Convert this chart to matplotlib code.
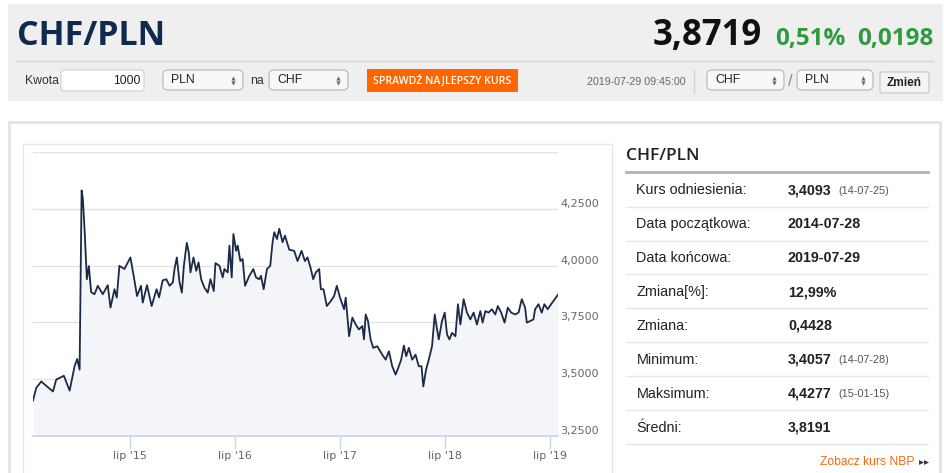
import matplotlib
matplotlib.use("Agg")
import matplotlib.pyplot as plt
from matplotlib.patches import Rectangle, FancyBboxPatch

W, H = 945, 473

# CHF/PLN (decimal year, rate)
years = [2014.572, 2014.603, 2014.651, 2014.698, 2014.762, 2014.793, 2014.866, 2014.921, 2014.968, 2014.993,
         2015.016, 2015.035, 2015.047, 2015.063, 2015.085, 2015.104, 2015.126, 2015.158, 2015.189, 2015.237,
         2015.284, 2015.310, 2015.348, 2015.370, 2015.395, 2015.443, 2015.500, 2015.531, 2015.563, 2015.601,
         2015.617, 2015.658, 2015.702, 2015.749, 2015.773, 2015.807, 2015.842, 2015.873, 2015.904, 2015.920,
         2015.942, 2015.968, 2015.990, 2016.009, 2016.037, 2016.056, 2016.072, 2016.101, 2016.127, 2016.149,
         2016.174, 2016.205, 2016.237, 2016.262, 2016.294, 2016.310, 2016.348, 2016.379, 2016.395, 2016.427,
         2016.443, 2016.465, 2016.481, 2016.507, 2016.522, 2016.547, 2016.569, 2016.592, 2016.633, 2016.671,
         2016.696, 2016.728, 2016.744, 2016.769, 2016.801, 2016.832, 2016.854, 2016.870, 2016.896, 2016.918,
         2016.949, 2016.972, 2017.013, 2017.060, 2017.092, 2017.130, 2017.162, 2017.187, 2017.219, 2017.241,
         2017.266, 2017.298, 2017.314, 2017.339, 2017.371, 2017.409, 2017.440, 2017.466, 2017.497, 2017.535,
         2017.551, 2017.583, 2017.614, 2017.646, 2017.677, 2017.709, 2017.725, 2017.741, 2017.763, 2017.788,
         2017.813, 2017.851, 2017.899, 2017.931, 2017.962, 2017.994, 2018.026, 2018.057, 2018.079, 2018.105,
         2018.127, 2018.152, 2018.184, 2018.216, 2018.247, 2018.273, 2018.290, 2018.316, 2018.342, 2018.373,
         2018.399, 2018.421, 2018.437, 2018.468, 2018.494, 2018.516, 2018.539, 2018.563, 2018.596, 2018.620,
         2018.643, 2018.674, 2018.706, 2018.738, 2018.769, 2018.801, 2018.833, 2018.855, 2018.881, 2018.912,
         2018.943, 2018.975, 2019.000, 2019.032, 2019.064, 2019.095, 2019.127, 2019.165, 2019.197, 2019.228,
         2019.260, 2019.276, 2019.308, 2019.339, 2019.355, 2019.387, 2019.418, 2019.443, 2019.475, 2019.507,
         2019.529, 2019.573]
rates = [3.406, 3.462, 3.490, 3.471, 3.446, 3.498, 3.515, 3.450, 3.557, 3.589,
         3.542, 4.331, 4.294, 4.161, 3.940, 3.998, 3.883, 3.874, 3.911, 3.874,
         3.914, 3.815, 3.896, 3.859, 3.999, 3.985, 4.036, 3.955, 3.866, 3.911,
         3.837, 3.914, 3.822, 3.896, 3.860, 3.935, 3.940, 3.911, 3.926, 3.985,
         4.036, 3.926, 3.881, 3.999, 4.100, 4.058, 3.970, 4.036, 3.977, 4.014,
         3.940, 3.903, 3.881, 3.940, 3.888, 4.011, 3.999, 3.948, 3.985, 3.970,
         4.088, 3.948, 4.139, 4.065, 4.088, 4.020, 4.029, 3.911, 3.955, 3.985,
         3.948, 3.940, 3.955, 3.896, 3.985, 3.999, 4.103, 4.147, 4.117, 4.162,
         4.103, 4.132, 4.070, 4.065, 4.020, 4.065, 4.020, 4.036, 3.985, 3.940,
         3.970, 3.985, 3.896, 3.896, 3.822, 3.844, 3.866, 3.911, 3.859, 3.808,
         3.859, 3.689, 3.771, 3.741, 3.719, 3.734, 3.675, 3.785, 3.756, 3.675,
         3.638, 3.645, 3.608, 3.586, 3.623, 3.557, 3.520, 3.557, 3.586, 3.648,
         3.601, 3.638, 3.586, 3.608, 3.557, 3.557, 3.468, 3.542, 3.586, 3.645,
         3.785, 3.719, 3.675, 3.756, 3.793, 3.697, 3.675, 3.704, 3.689, 3.830,
         3.741, 3.852, 3.793, 3.763, 3.793, 3.741, 3.800, 3.749, 3.800, 3.793,
         3.808, 3.785, 3.822, 3.793, 3.749, 3.815, 3.793, 3.785, 3.793, 3.852,
         3.815, 3.749, 3.756, 3.763, 3.808, 3.830, 3.793, 3.830, 3.808, 3.830,
         3.844, 3.872]

y_ticks = [3.25, 3.5, 3.75, 4.0, 4.25]
y_tick_labels = ["3,2500", "3,5000", "3,7500", "4,0000", "4,2500"]
x_ticks = [2015.496, 2016.497, 2017.496, 2018.496, 2019.496]
x_tick_labels = ["lip '15", "lip '16", "lip '17", "lip '18", "lip '19"]

stat_labels = ["Kurs odniesienia:", "Data początkowa:", "Data końcowa:", "Zmiana[%]:",
               "Zmiana:", "Minimum:", "Maksimum:", "Średni:"]
stat_values = ["3,4093", "2014-07-28", "2019-07-29", "12,99%", "0,4428", "3,4057", "4,4277", "3,8191"]
stat_dates = ["(14-07-25)", "", "", "", "", "(14-07-28)", "(15-01-15)", ""]

fig = plt.figure(figsize=(W / 100, H / 100), dpi=100)
bg = fig.add_axes([0, 0, 1, 1])
bg.set_xlim(0, W)
bg.set_ylim(H, 0)
bg.axis("off")

SANS = "Liberation Sans"
OPEN = "Open Sans"

# top bar
bg.add_patch(Rectangle((8, 4), 935, 97, fc="#efefef", ec="none"))
bg.plot([17, 933], [61, 61], color="#d4d4d4", lw=1)
bg.text(17, 45, "CHF/PLN", family=OPEN, weight="bold", fontsize=24.5, color="#0f2a4e", va="baseline")
bg.text(762, 45, "3,8719", family=OPEN, weight="bold", fontsize=25, color="#111111", va="baseline", ha="right")
bg.text(846, 45, "0,51%", family=OPEN, weight="bold", fontsize=17.5, color="#2e9b3e", va="baseline", ha="right")
bg.text(933, 45, "0,0198", family=OPEN, weight="bold", fontsize=17.5, color="#2e9b3e", va="baseline", ha="right")

# controls row
row_y = 80.5
bg.text(25, row_y, "Kwota", family=SANS, fontsize=8.8, color="#333333", va="center")
bg.add_patch(FancyBboxPatch((61, 70), 83, 21, boxstyle="round,pad=0,rounding_size=3",
                            fc="white", ec="#cfcfcf", lw=0.8))
bg.text(141, row_y, "1000", family=SANS, fontsize=8.8, color="#222222", va="center", ha="right")


def select_box(x0, x1, label):
    bg.add_patch(FancyBboxPatch((x0, 70), x1 - x0, 20, boxstyle="round,pad=0,rounding_size=5",
                                fc="#f8f8f8", ec="#b5b5b5", lw=0.8))
    bg.text(x0 + 8, row_y - 0.5, label, family=SANS, fontsize=8.8, color="#222222", va="center")
    # up/down arrow of the select control
    bg.plot([x1 - 10], [row_y - 2.5], marker="^", ms=3, color="#666666", mew=0)
    bg.plot([x1 - 10], [row_y + 2.5], marker="v", ms=3, color="#666666", mew=0)


select_box(163, 243, "PLN")
bg.text(250, row_y, "na", family=SANS, fontsize=8.8, color="#333333", va="center")
select_box(269, 348, "CHF")

bg.add_patch(Rectangle((367, 69), 151, 23, fc="#ff6600", ec="none"))
bg.text(442.5, row_y, "SPRAWDŹ NAJLEPSZY KURS", family=OPEN, weight="semibold", fontsize=7.6,
        color="white", va="center", ha="center")

bg.text(587, row_y + 1.5, "2019-07-29 09:45:00", family=SANS, fontsize=7.7, color="#666666", va="center")
bg.plot([694, 694], [70, 93], color="#d2d2d2", lw=1)
select_box(707, 784, "CHF")
bg.text(790.5, row_y + 1, "/", family=SANS, fontsize=12, color="#888888", va="center", ha="center")
select_box(797, 873, "PLN")
bg.add_patch(FancyBboxPatch((880, 72), 49, 21, boxstyle="round,pad=0,rounding_size=2",
                            fc="#f4f4f4", ec="#c4c4c4", lw=0.8))
bg.text(904.5, 82.5, "Zmień", family=SANS, weight="bold", fontsize=8.6, color="#222222",
        va="center", ha="center")

# content panel and chart frame
bg.add_patch(Rectangle((9, 122), 931, 360, fc="white", ec="#e2e2e2", lw=2))
bg.add_patch(Rectangle((22.5, 143.5), 589, 340, fc="white", ec="#e6e6e6", lw=1))

# stats table
bg.text(626, 156, "CHF/PLN", family=OPEN, weight="semibold", fontsize=12.5, color="#222222", va="center")
bg.plot([626, 928], [172, 172], color="#b3b3b3", lw=2)
for i, (lab, val, dt) in enumerate(zip(stat_labels, stat_values, stat_dates)):
    yc = 190.3 + i * 33.9
    bg.text(636.5, yc, lab, family=SANS, fontsize=10.4, color="#222222", va="center")
    bg.text(788, yc, val, family=SANS, weight="bold", fontsize=10.3, color="#222222", va="center")
    if dt:
        bg.text(838, yc + 0.5, dt, family=SANS, fontsize=7.8, color="#555555", va="center")
    bg.plot([626, 928], [yc + 16.3, yc + 16.3], color="#e6e6e6", lw=1)
bg.text(915, 462, "Zobacz kurs NBP", family=SANS, fontsize=8.7, color="#f26a10", va="center", ha="right")
bg.plot([920.5, 925.5], [462, 462], ls="none", marker=">", ms=3.5, color="#333333", mew=0)

# chart
x0, x1, ytop, ybot = 33, 558, 152, 436
ax = fig.add_axes([x0 / W, (H - ybot) / H, (x1 - x0) / W, (ybot - ytop) / H])
ax.patch.set_alpha(0)
ax.set_xlim(years[0], years[-1])
ax.set_ylim(3.25, 4.5)
for v in [3.5, 3.75, 4.0, 4.25, 4.5]:
    ax.axhline(v, color="#e3e3e3", lw=1, zorder=1)
ax.fill_between(years, rates, 3.25, color="#f4f5f8", lw=0, zorder=2)
ax.plot(years, rates, color="#1b2a48", lw=1.3, zorder=3, solid_joinstyle="round")
ax.axhline(3.25, color="#ccd6eb", lw=1.3, zorder=4, clip_on=False)

for s in ax.spines.values():
    s.set_visible(False)
ax.set_yticks([])
ax.set_xticks(x_ticks)
ax.set_xticklabels(x_tick_labels)
ax.tick_params(axis="x", length=9, width=1, color="#ccd6eb", labelcolor="#666666",
               labelsize=8, pad=1.5)
for v, lab in zip(y_ticks, y_tick_labels):
    ax.text(1.004, v, lab, transform=ax.get_yaxis_transform(), fontsize=8, color="#666666",
            va="bottom", ha="left")

fig.savefig("out.png", dpi=100)
